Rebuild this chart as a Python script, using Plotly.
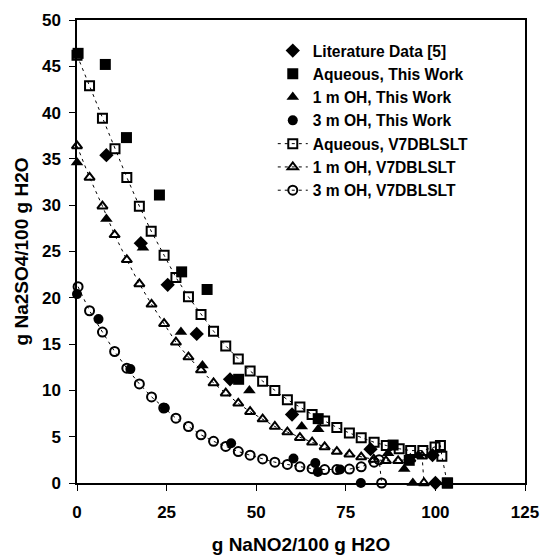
import plotly.graph_objects as go

# ---- data ----
lit_x = [8.2, 17.8, 25.3, 33.4, 42.7, 60.0, 81.9, 99.2, 100.0]
lit_y = [35.4, 25.9, 21.4, 16.1, 11.2, 7.4, 3.65, 3.0, 0]

aq_x = [0.3, 7.9, 13.8, 23.0, 29.2, 36.3, 45.1, 67.3, 88.2, 92.7, 103.4]
aq_y = [46.4, 45.2, 37.3, 31.1, 22.8, 20.9, 11.2, 6.95, 4.1, 2.45, 0]

oh1_x = [0, 8.2, 18.4, 29.0, 35.0, 48.1, 62.7, 67.3, 86.8, 91.3, 95.2, 93.7]
oh1_y = [34.6, 28.5, 25.4, 16.3, 12.7, 10.0, 6.1, 5.8, 3.2, 1.5, 3.0, 0]

oh3_x = [0, 6.0, 14.9, 24.5, 43.0, 60.4, 66.5, 67.2, 73.4, 79.2]
oh3_y = [20.4, 17.7, 12.3, 8.1, 4.3, 2.65, 2.15, 1.2, 1.45, 0]

aq_m_x = [0, 3.5, 7.1, 10.6, 13.9, 17.4, 20.7, 24.3, 27.6, 31.1, 34.6, 38.1, 41.5,
          45.0, 48.3, 51.8, 55.2, 58.7, 62.2, 65.6, 69.1, 72.5, 76.0, 79.3, 82.9,
          86.3, 89.9, 93.1, 96.5, 99.9, 101.4, 101.8, 103.3]
aq_m_y = [46.2, 42.9, 39.4, 36.1, 33.0, 29.9, 27.2, 24.6, 22.2, 20.1, 18.2, 16.4, 14.8,
          13.4, 12.1, 11.0, 10.0, 9.0, 8.2, 7.4, 6.7, 6.0, 5.4, 4.9, 4.4,
          4.05, 3.7, 3.5, 3.5, 3.9, 4.05, 2.9, 0]

oh1_m_x = [0, 3.5, 7.1, 10.5, 13.9, 17.4, 20.8, 24.3, 27.6, 31.1, 34.6, 38.1, 41.5,
           45.0, 48.3, 51.8, 55.2, 58.7, 62.2, 65.6, 69.1, 72.5, 76.0, 79.3, 82.8,
           86.2, 89.6, 93.0, 96.3, 96.8]
oh1_m_y = [36.4, 33.0, 29.9, 26.8, 24.1, 21.5, 19.3, 17.2, 15.2, 13.6, 12.2, 10.8, 9.7,
           8.6, 7.7, 6.9, 6.1, 5.5, 4.9, 4.4, 3.9, 3.4, 3.1, 2.8, 2.55,
           2.4, 2.4, 2.6, 2.9, 0]

oh3_m_x = [0.3, 3.5, 7.1, 10.5, 13.9, 17.4, 20.8, 24.2, 27.6, 31.1, 34.6, 38.1, 41.5,
           45.0, 48.3, 51.8, 55.2, 58.7, 62.2, 65.6, 69.1, 72.5, 76.0, 79.3, 82.9,
           84.3, 85.0]
oh3_m_y = [21.2, 18.6, 16.3, 14.2, 12.4, 10.7, 9.3, 8.1, 7.0, 6.1, 5.2, 4.5, 3.95,
           3.4, 3.0, 2.6, 2.25, 2.0, 1.75, 1.55, 1.45, 1.45, 1.5, 1.75, 2.25,
           2.5, 0]

x_ticks = [0, 25, 50, 75, 100, 125]
y_ticks = [0, 5, 10, 15, 20, 25, 30, 35, 40, 45, 50]

FONT = "Arial, Liberation Sans, sans-serif"
dash_line = dict(color="black", width=1, dash="3px,4px")

fig = go.Figure()

def model(x, y, name, sym, rank):
    fig.add_trace(go.Scatter(
        x=x, y=y, name=name, mode="lines+markers", line=dash_line,
        marker=dict(symbol=sym, size=9, color="black", line=dict(width=2, color="black")),
        cliponaxis=False, legendrank=rank))

def meas(x, y, name, sym, size, rank):
    fig.add_trace(go.Scatter(
        x=x, y=y, name=name, mode="markers",
        marker=dict(symbol=sym, size=size, color="black", line=dict(width=0)),
        cliponaxis=False, legendrank=rank))

model(aq_m_x, aq_m_y, "Aqueous, V7DBLSLT", "square-open", 5)
model(oh1_m_x, oh1_m_y, "1 m OH, V7DBLSLT", "triangle-up-open", 6)
model(oh3_m_x, oh3_m_y, "3 m OH, V7DBLSLT", "circle-open", 7)
meas(lit_x, lit_y, "Literature Data [5]", "diamond", 11, 1)
meas(aq_x, aq_y, "Aqueous, This Work", "square", 11, 2)
meas(oh1_x, oh1_y, "1 m OH, This Work", "triangle-up", 11, 3)
meas(oh3_x, oh3_y, "3 m OH, This Work", "circle", 10, 4)

axis_common = dict(
    showline=True, linecolor="black", linewidth=1.5, mirror=True,
    ticks="outside", ticklen=6, tickwidth=1, tickcolor="black",
    showgrid=False, zeroline=False, automargin=False,
    tickfont=dict(family=FONT, size=17, color="black", weight="bold"),
)

fig.update_layout(
    width=543, height=555,
    margin=dict(l=77, r=18, t=20, b=72),
    paper_bgcolor="white", plot_bgcolor="white",
    showlegend=True,
    legend=dict(x=0.437, y=0.970, xanchor="left", yanchor="top",
                font=dict(family=FONT, size=15.6, color="black", weight="bold"),
                bgcolor="rgba(0,0,0,0)", tracegroupgap=0),
    xaxis=dict(range=[0, 125], tickvals=x_ticks, ticklabelstandoff=7,
               title=dict(text="g NaNO2/100 g H2O", standoff=21,
                          font=dict(family=FONT, size=19, color="black", weight="bold")),
               **axis_common),
    yaxis=dict(range=[0, 50], tickvals=y_ticks, ticklabelstandoff=5,
               title=dict(text="g Na2SO4/100 g H2O", standoff=8,
                          font=dict(family=FONT, size=19, color="black", weight="bold")),
               **axis_common),
)

fig.write_html("out.html")
